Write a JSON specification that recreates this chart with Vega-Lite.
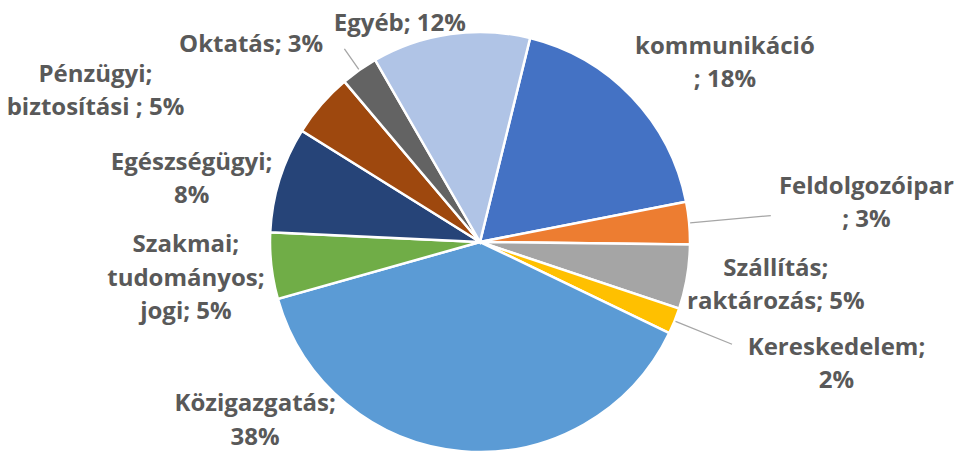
{
  "$schema": "https://vega.github.io/schema/vega-lite/v6.json",
  "width": 952,
  "height": 422,
  "autosize": {"type": "none"},
  "padding": {"top": 31, "left": 4, "right": 0, "bottom": 0},
  "background": "white",
  "view": {"stroke": null},
  "config": {"text": {"align": "center", "baseline": "middle", "lineBreak": "\n", "lineHeight": 33.5, "font": "Open Sans", "fontWeight": "bold", "fontSize": 24, "fill": "#595959"}},
  "data": {
    "values": [
      {"i": 1, "cat": "kommunikáció", "value": 18.1, "label": "kommunikáció\n; 18%"},
      {"i": 2, "cat": "Feldolgozóipar", "value": 3.25, "label": "Feldolgozóipar\n; 3%"},
      {"i": 3, "cat": "Szállítás; raktározás", "value": 4.95, "label": "Szállítás;\nraktározás; 5%"},
      {"i": 4, "cat": "Kereskedelem", "value": 2.0, "label": "Kereskedelem;\n2%"},
      {"i": 5, "cat": "Közigazgatás", "value": 38.5, "label": "Közigazgatás;\n38%"},
      {"i": 6, "cat": "Szakmai; tudományos; jogi", "value": 5.1, "label": "Szakmai;\ntudományos;\njogi; 5%"},
      {"i": 7, "cat": "Egészségügyi", "value": 8.15, "label": "Egészségügyi;\n8%"},
      {"i": 8, "cat": "Pénzügyi; biztosítási", "value": 4.95, "label": "Pénzügyi;\nbiztosítási ; 5%"},
      {"i": 9, "cat": "Oktatás", "value": 2.85, "label": "Oktatás; 3%"},
      {"i": 10, "cat": "Egyéb", "value": 12.15, "label": "Egyéb; 12%"}
    ]
  },
  "encoding": {
    "theta": {"field": "value", "type": "quantitative", "stack": true, "scale": {"domain": [0, 100], "range": [0.2409, 6.5241]}},
    "order": {"field": "i", "type": "quantitative"},
    "detail": {"field": "cat"}
  },
  "layer": [
    {
      "mark": {"type": "arc", "radius": 210, "stroke": "white", "strokeWidth": 2.5},
      "encoding": {
        "color": {
          "field": "cat",
          "type": "nominal",
          "legend": null,
          "scale": {
            "domain": ["kommunikáció", "Feldolgozóipar", "Szállítás; raktározás", "Kereskedelem", "Közigazgatás", "Szakmai; tudományos; jogi", "Egészségügyi", "Pénzügyi; biztosítási", "Oktatás", "Egyéb"],
            "range": ["#4472C4", "#ED7D31", "#A5A5A5", "#FFC000", "#5B9BD5", "#70AD47", "#264478", "#9E480E", "#636363", "#B0C4E6"]
          }
        }
      }
    },
    {
      "mark": {"type": "arc", "radius": 292, "radius2": 211, "padAngle": 3, "fill": "transparent", "strokeWidth": 1.3},
      "encoding": {"stroke": {"condition": {"test": "datum.cat === 'Feldolgozóipar'", "value": "#A6A6A6"}, "value": "transparent"}}
    },
    {
      "mark": {"type": "arc", "radius": 272, "radius2": 211, "padAngle": 3, "fill": "transparent", "strokeWidth": 1.3},
      "encoding": {"stroke": {"condition": {"test": "datum.cat === 'Kereskedelem'", "value": "#A6A6A6"}, "value": "transparent"}}
    },
    {
      "mark": {"type": "arc", "radius": 236, "radius2": 211, "padAngle": 3, "fill": "transparent", "strokeWidth": 1.3},
      "encoding": {"stroke": {"condition": {"test": "datum.cat === 'Oktatás'", "value": "#A6A6A6"}, "value": "transparent"}}
    },
    {
      "mark": {"type": "text", "radius": 222, "dx": -49, "dy": 2},
      "encoding": {"text": {"condition": {"test": "datum.cat === 'Egyéb'", "field": "label"}, "value": ""}}
    },
    {
      "mark": {"type": "text", "radius": 290, "dx": 35, "dy": 5},
      "encoding": {"text": {"condition": {"test": "datum.cat === 'kommunikáció'", "field": "label"}, "value": ""}}
    },
    {
      "mark": {"type": "text", "radius": 388, "dx": 0, "dy": -20},
      "encoding": {"text": {"condition": {"test": "datum.cat === 'Feldolgozóipar'", "field": "label"}, "value": ""}}
    },
    {
      "mark": {"type": "text", "radius": 299, "dx": 1, "dy": -23},
      "encoding": {"text": {"condition": {"test": "datum.cat === 'Szállítás; raktározás'", "field": "label"}, "value": ""}}
    },
    {
      "mark": {"type": "text", "radius": 375, "dx": 9, "dy": -35},
      "encoding": {"text": {"condition": {"test": "datum.cat === 'Kereskedelem'", "field": "label"}, "value": ""}}
    },
    {
      "mark": {"type": "text", "radius": 240, "dx": -204, "dy": -77},
      "encoding": {"text": {"condition": {"test": "datum.cat === 'Közigazgatás'", "field": "label"}, "value": ""}}
    },
    {
      "mark": {"type": "text", "radius": 290, "dx": -6, "dy": -30},
      "encoding": {"text": {"condition": {"test": "datum.cat === 'Szakmai; tudományos; jogi'", "field": "label"}, "value": ""}}
    },
    {
      "mark": {"type": "text", "radius": 300, "dx": -2, "dy": 10},
      "encoding": {"text": {"condition": {"test": "datum.cat === 'Egészségügyi'", "field": "label"}, "value": ""}}
    },
    {
      "mark": {"type": "text", "radius": 260, "dx": -188, "dy": 3},
      "encoding": {"text": {"condition": {"test": "datum.cat === 'Pénzügyi; biztosítási'", "field": "label"}, "value": ""}}
    },
    {
      "mark": {"type": "text", "radius": 240, "dx": -91, "dy": -1},
      "encoding": {"text": {"condition": {"test": "datum.cat === 'Oktatás'", "field": "label"}, "value": ""}}
    }
  ]
}
